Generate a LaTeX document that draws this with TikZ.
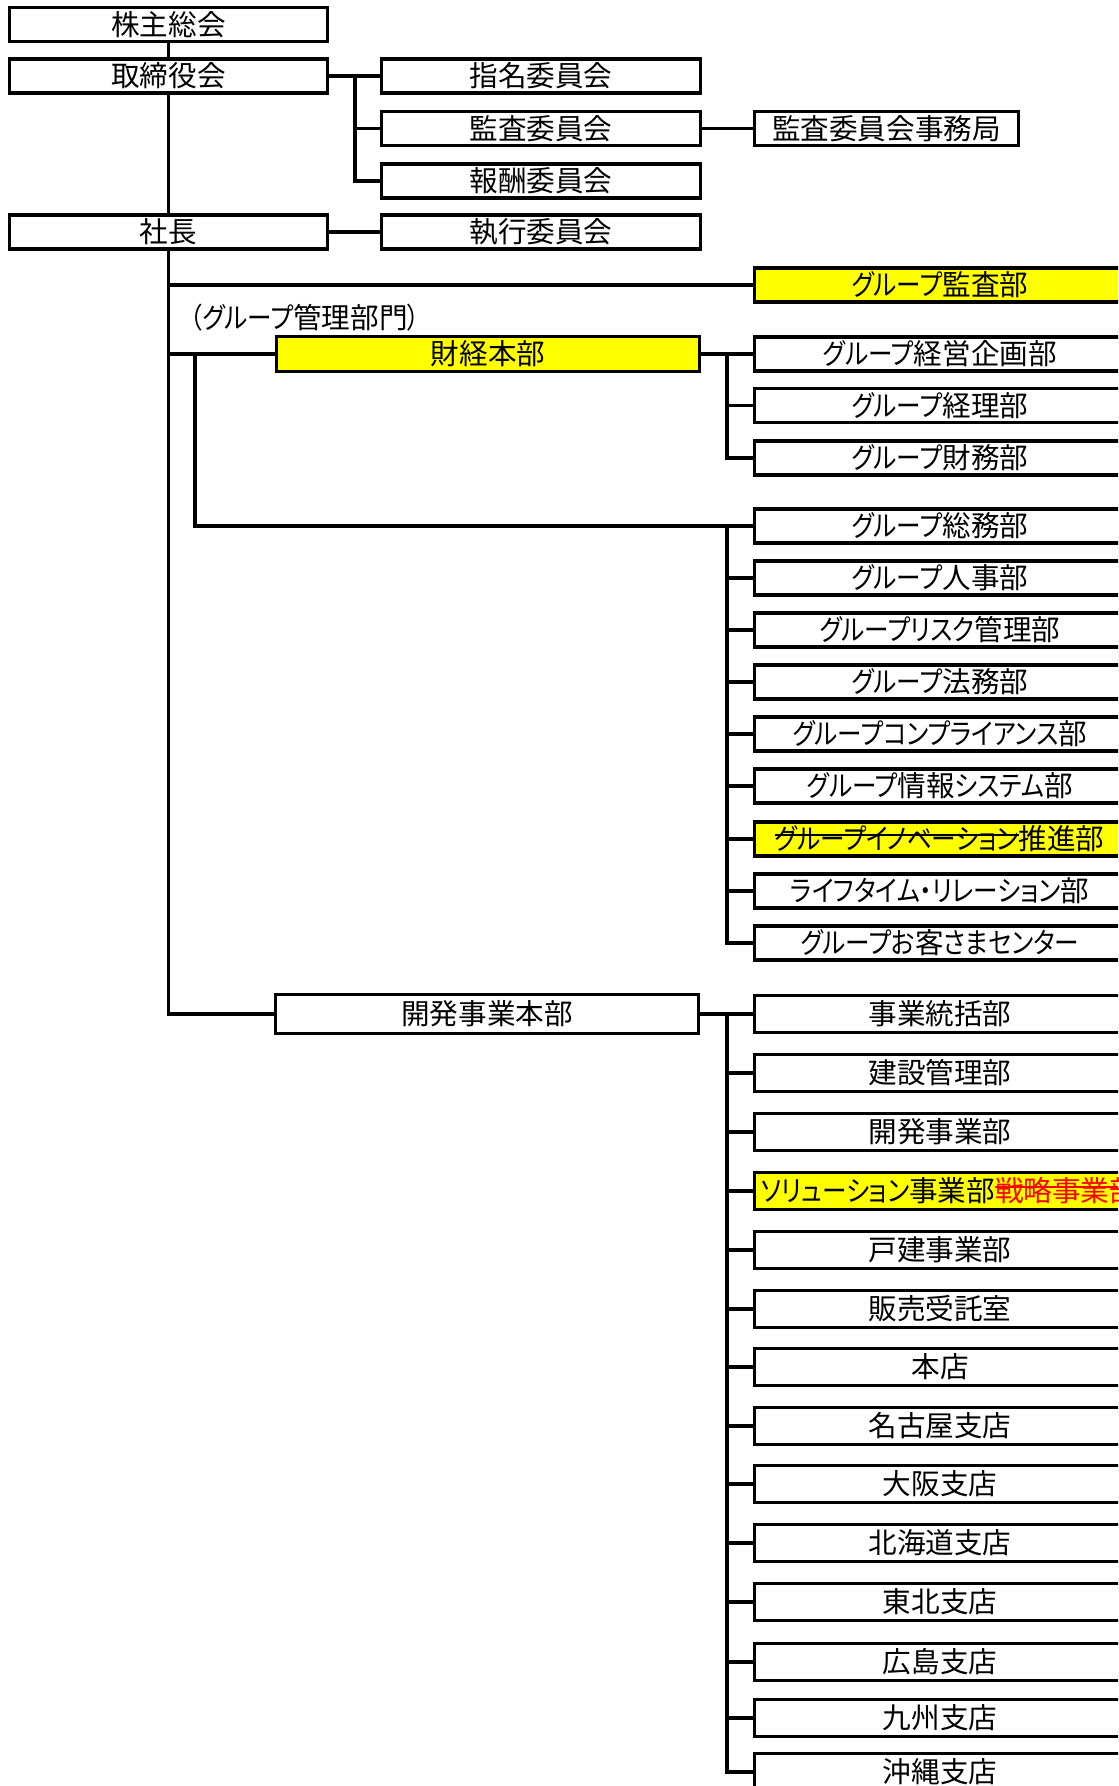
\documentclass[tikz,border=0pt]{standalone}
\usepackage{fontspec}
\setmainfont{Noto Sans CJK JP}[RawFeature=+palt]
\newfontfamily\kanafont{Noto Sans CJK JP}[FakeStretch=0.86, RawFeature=+palt]
\definecolor{markyellow}{RGB}{255, 255, 0}
\definecolor{memored}{RGB}{255, 0, 0}
\newcommand{\kana}[1]{{\kanafont #1}}
\newcommand{\struck}[1]{\setbox0=\hbox{#1}\rlap{\rule[0.48em]{\wd0}{0.07em}}\box0}

\begin{document}
\begin{tikzpicture}[x=0.5pt, y=-0.5pt,
  orgbox/.style={draw, line width=1.6pt, fill=white, inner sep=0pt, font=\fontsize{14.3}{17}\selectfont},
  leftbox/.style={orgbox, minimum width=159pt, minimum height=17pt},
  cmtbox/.style={orgbox, minimum width=159.5pt, minimum height=17pt},
  headbox/.style={orgbox, minimum width=211.5pt, minimum height=17.5pt},
  deptbox/.style={orgbox, minimum width=185.5pt, minimum height=17pt},
  devbox/.style={orgbox, minimum width=185.5pt, minimum height=18.5pt},
  marked/.style={fill=markyellow},
  link/.style={line width=1.6pt}]
  \useasboundingbox (0,0) rectangle (1118,1786);
  \clip (0,0) rectangle (1118,1786);

  % Board and president
  \node[leftbox] (kabunushi) at (168.5,24.5) {株主総会};
  \node[leftbox] (torishimari) at (168.5,76) {取締役会};
  \node[leftbox] (shacho) at (168.5,232) {社長};

  % Committees
  \node[cmtbox] (shimei) at (541,76) {指名委員会};
  \node[cmtbox] (kansa) at (541,128.5) {監査委員会};
  \node[cmtbox] (hoshu) at (541,181) {報酬委員会};
  \node[cmtbox] (shikko) at (541,232) {執行委員会};
  \node[orgbox, minimum width=132pt, minimum height=17pt] (jimukyoku) at (886.5,128.5) {監査委員会事務局};

  % Group management
  \node[deptbox, marked] (kansabu) at (940,285) {\kana{グループ}監査部};
  \node[anchor=west, inner sep=0pt, font=\fontsize{14.3}{17}\selectfont] (kanrilabel) at (190,318) {\kana{（グループ}管理部門\kana{）}};
  \node[headbox, marked] (zaikei) at (488,354) {財経本部};
  \node[deptbox] (keiei) at (940,354) {\kana{グループ}経営企画部};
  \node[deptbox] (keiri) at (940,405.5) {\kana{グループ}経理部};
  \node[deptbox] (zaimu) at (940,458) {\kana{グループ}財務部};
  \node[deptbox] (somu) at (940,526) {\kana{グループ}総務部};
  \node[deptbox] (jinji) at (940,578) {\kana{グループ}人事部};
  \node[deptbox] (risk) at (940,630) {\kana{グループリスク}管理部};
  \node[deptbox] (homu) at (940,682) {\kana{グループ}法務部};
  \node[deptbox] (compliance) at (940,734) {\kana{グループコンプライアンス}部};
  \node[deptbox] (joho) at (940,786) {\kana{グループ}情報\kana{システム}部};
  \node[deptbox, marked] (innovation) at (940,839) {\struck{\kana{グループイノベーション}}推進部};
  \node[deptbox] (lifetime) at (940,891) {\kana{ライフタイム・リレーション}部};
  \node[deptbox] (okyakusama) at (940,943) {\kana{グループお}客\kana{さまセンター}};

  % Development
  \node[headbox, minimum height=19.5pt] (kaihatsu) at (487,1014) {開発事業本部};
  \node[devbox] (toukatsu) at (940,1014) {事業統括部};
  \node[devbox] (kensetsu) at (940,1073) {建設管理部};
  \node[devbox] (jigyo) at (940,1132) {開発事業部};
  \node[devbox, marked] (solution) at (940,1191) {};
  \node[anchor=west, inner sep=0pt, font=\fontsize{14.3}{17}\selectfont] (solutionlabel) at (761,1191) {\kana{ソリューション}事業部{\color{memored}\struck{戦略事業部}}};
  \node[devbox] (kodate) at (940,1250) {戸建事業部};
  \node[devbox] (hanbai) at (940,1309) {販売受託室};
  \node[devbox] (honten) at (940,1367) {本店};
  \node[devbox] (nagoya) at (940,1426) {名古屋支店};
  \node[devbox] (osaka) at (940,1484) {大阪支店};
  \node[devbox] (hokkaido) at (940,1543) {北海道支店};
  \node[devbox] (tohoku) at (940,1602) {東北支店};
  \node[devbox] (hiroshima) at (940,1662) {広島支店};
  \node[devbox] (kyushu) at (940,1718) {九州支店};
  \node[devbox] (okinawa) at (940,1772) {沖縄支店};

  % Connectors
  \coordinate (cmtbus) at (355,0);
  \coordinate (kanribus) at (195,0);
  \coordinate (deptbus) at (727,0);
  \draw[link] (kabunushi) -- (torishimari);
  \draw[link] (torishimari) -- (shacho);
  \draw[link] (torishimari) -- (shimei);
  \draw[link] (cmtbus |- shimei) |- (kansa.west);
  \draw[link] (cmtbus |- shimei) |- (hoshu.west);
  \draw[link] (kansa) -- (jimukyoku);
  \draw[link] (shacho) -- (shikko);
  \draw[link] (shacho.south) |- (kaihatsu.west);
  \draw[link] (shacho.south |- kansabu) -- (kansabu.west);
  \draw[link] (shacho.south |- zaikei) -- (zaikei.west);
  \draw[link] (kanribus |- zaikei) |- (somu.west);
  \draw[link] (zaikei) -- (keiei);
  \draw[link] (deptbus |- keiei) |- (keiri.west);
  \draw[link] (deptbus |- keiei) |- (zaimu.west);
  \foreach \dept in {jinji, risk, homu, compliance, joho, innovation, lifetime, okyakusama}
    \draw[link] (deptbus |- somu) |- (\dept.west);
  \draw[link] (kaihatsu) -- (toukatsu);
  \foreach \dept in {kensetsu, jigyo, solution, kodate, hanbai, honten, nagoya, osaka, hokkaido, tohoku, hiroshima, kyushu, okinawa}
    \draw[link] (deptbus |- toukatsu) |- (\dept.west);
\end{tikzpicture}
\end{document}
